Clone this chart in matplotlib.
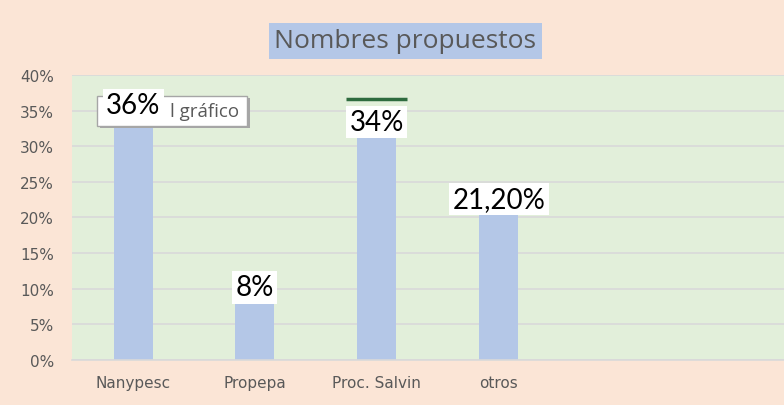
import matplotlib.pyplot as plt
from matplotlib.patches import Rectangle
import numpy as np

# data
categories = ['Nanypesc', 'Propepa', 'Proc. Salvin', 'otros']
values = [36, 8, 34, 21.2]
value_labels = ['36%', '8%', '34%', '21,20%']
yticks = [0, 5, 10, 15, 20, 25, 30, 35, 40]

# label offsets in percentage points (layout only)
label_offsets = [-0.2, 2.2, -0.6, 1.4]

fig = plt.figure(figsize=(7.84, 4.06), dpi=100)
fig.patch.set_facecolor('#FBE5D6')
ax = fig.add_axes([0.092, 0.111, 0.908, 0.702])
ax.set_facecolor('#E2EFDA')

x = np.arange(len(categories))
ax.bar(x, values, width=0.32, color='#B4C7E7', zorder=2)

ax.set_ylim(0, 40)
ax.set_xlim(-0.5, 5.34)
ax.set_yticks(yticks)
ax.set_yticklabels([str(t) + '%' for t in yticks], fontsize=11, color='#595959', family='DejaVu Sans')
ax.set_xticks(x)
ax.set_xticklabels(categories, fontsize=11, color='#595959', family='DejaVu Sans')
ax.tick_params(axis='y', length=0, pad=13)
ax.tick_params(axis='x', length=0, pad=11)
ax.grid(axis='y', color='#D9D9D9', linewidth=1.2, zorder=1)
for s in ['top', 'right', 'left']:
    ax.spines[s].set_visible(False)
ax.spines['bottom'].set_color('#D9D9D9')
ax.spines['bottom'].set_linewidth(1.2)

# tooltip left over in the original screenshot ("Área del gráfico")
ax.add_patch(Rectangle((-0.27, 32.6), 1.23, 4.2, facecolor='#A6A6A6', edgecolor='none', zorder=3))
ax.add_patch(Rectangle((-0.295, 32.9), 1.23, 4.2, facecolor='white', edgecolor='#A6A6A6', lw=1, zorder=3))
ax.text(0.30, 35.0, 'l gráfico', ha='left', va='center',
        fontsize=13.5, color='#595959', family='Open Sans', zorder=4)

# dark line above the Proc. Salvin label
ax.hlines(36.6, x[2] - 0.25, x[2] + 0.25, color='#2E6B3E', lw=2.5, zorder=5)

for i in range(len(values)):
    ax.text(x[i], values[i] + label_offsets[i], value_labels[i], ha='center', va='center',
            fontsize=20, color='black', family='Lato', zorder=5,
            bbox=dict(facecolor='white', edgecolor='none', boxstyle='square,pad=0.12'))

fig.text(0.517, 0.897, 'Nombres propuestos', ha='center', va='center', fontsize=19,
         color='#595959', family='Open Sans',
         bbox=dict(facecolor='#B4C7E7', edgecolor='none', boxstyle='square,pad=0.2'))

fig.savefig('out.png', dpi=100, facecolor=fig.get_facecolor())
